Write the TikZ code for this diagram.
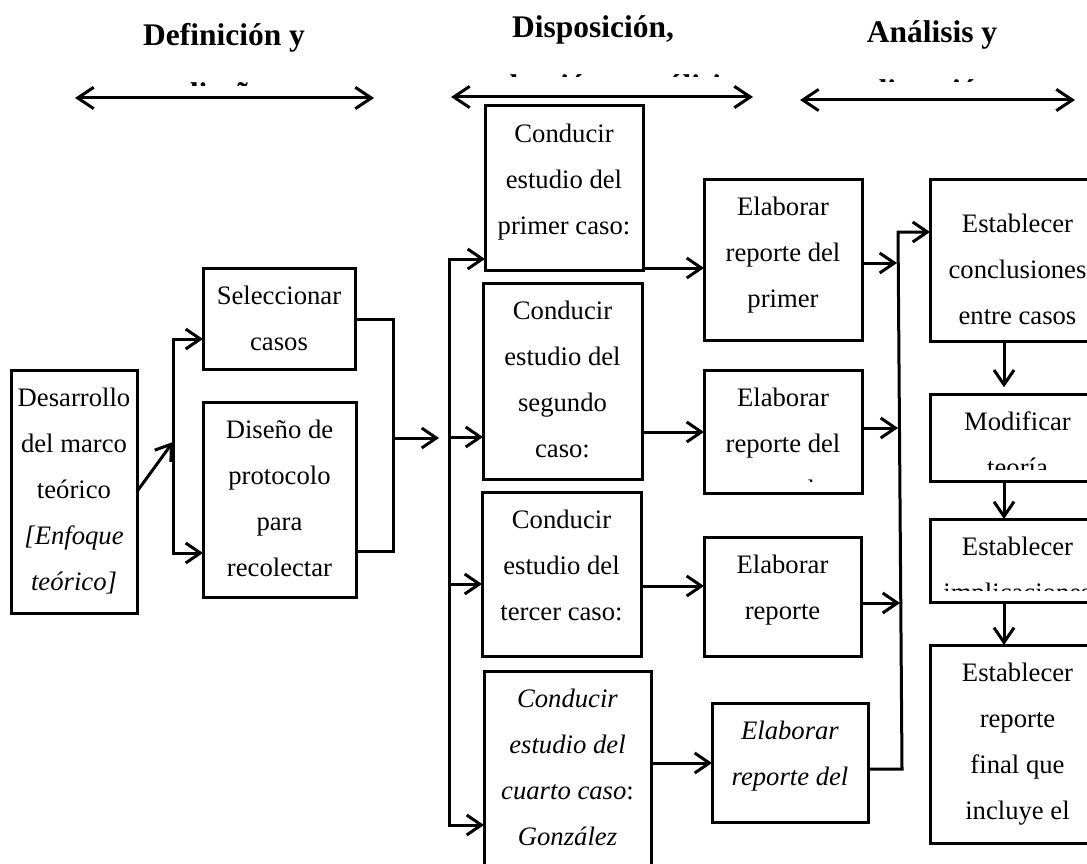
\documentclass[tikz,border=0pt]{standalone}
\usepackage{fontspec}
\setmainfont{Liberation Serif}
\usetikzlibrary{arrows.meta}

\tikzset{
  caja/.style={draw, line width=2.25pt, inner sep=0pt, outer sep=0pt},
  texto/.style={align=center, inner sep=0pt, font=\fontsize{20}{34.5}\selectfont},
  titulo/.style={align=center, inner sep=0pt, font=\bfseries\fontsize{23.6}{44}\selectfont},
  flecha/.style={-{Straight Barb[length=11pt,width=15pt]}},
  doble/.style={{Straight Barb[length=12pt,width=16pt]}-{Straight Barb[length=12pt,width=16pt]}}
}

% box with text cut at its lower edge: [text offset]{name}{left}{top}{right}{bottom}{text}
\newcommand{\caja}[7][0]{%
  \pgfmathsetmacro\cajaancho{(#5-#3)*0.75}%
  \pgfmathsetmacro\cajaalto{(#6-#4)*0.75}%
  \pgfmathsetmacro\cajax{(#3+#5)/2}%
  \pgfmathsetmacro\cajay{#4+3+#1}%
  \node[caja, anchor=north west, minimum width=\cajaancho pt, minimum height=\cajaalto pt] (#2) at (#3,#4) {};
  \begin{scope}
    \clip (#3,#4) rectangle (#5,#6-12);
    \node[texto, anchor=north] at (\cajax,\cajay) {\strut#7};
  \end{scope}}

\begin{document}
\begin{tikzpicture}[x=0.75pt, y=-0.75pt, line width=2.25pt]
\useasboundingbox (0,0) rectangle (1087,863);
% Titles
\begin{scope}
  \clip (40,-10) rectangle (410,86);
  \node[titulo, anchor=north] (tit1) at (224,3) {\strut Definición y\\diseño};
\end{scope}
\begin{scope}
  \clip (420,-10) rectangle (770,77);
  \node[titulo, anchor=north] (tit2) at (593,-5) {\strut Disposición,\\recolección y análisis};
\end{scope}
\begin{scope}
  \clip (780,-10) rectangle (1087,82);
  \node[titulo, anchor=north] (tit3) at (932,0) {\strut Análisis y\\discusión};
\end{scope}
% Double arrows under the titles
\coordinate (h1a) at (75,98);
\coordinate (h1b) at (374,98);
\coordinate (h2a) at (451,97);
\coordinate (h2b) at (753,97);
\coordinate (h3a) at (800,100);
\coordinate (h3b) at (1075,100);
\draw[doble] (h1a) -- (h1b);
\draw[doble] (h2a) -- (h2b);
\draw[doble] (h3a) -- (h3b);
% Boxes
\caja{desarrollo}{11}{370}{137}{613}{Desarrollo\\del marco\\teórico\\\textit{[Enfoque}\\\textit{teórico]}}
\caja{seleccionar}{203}{268}{355}{369}{Seleccionar\\casos}
\caja{disenio}{203}{402}{356}{597}{Diseño de\\protocolo\\para\\recolectar}
\caja{caso1}{485}{106}{643}{270}{Conducir\\estudio del\\primer caso:}
\caja{caso2}{483}{283}{642}{479}{Conducir\\estudio del\\segundo\\caso:}
\caja{caso3}{482}{492}{641}{656}{Conducir\\estudio del\\tercer caso:}
\caja{caso4}{484}{671}{651}{885}{\textit{Conducir}\\\textit{estudio del}\\\textit{cuarto caso}:\\\textit{González}}
\caja{reporte1}{704}{179}{862}{340}{Elaborar\\reporte del\\primer}
\caja{reporte2}{704}{370}{862}{493}{Elaborar\\reporte del\\segundo}
\caja{reporte3}{704}{537}{861}{656}{Elaborar\\reporte}
\caja{reporte4}{712}{703}{868}{822}{\textit{Elaborar}\\\textit{reporte del}}
\caja[17]{concl}{930}{179}{1105}{341}{Establecer\\conclusiones\\entre casos}
\caja{modif}{930}{394}{1105}{481}{Modificar\\teoría}
\caja{implic}{930}{519}{1105}{602}{Establecer\\implicaciones}
\caja{final}{930}{645}{1105}{843}{Establecer\\reporte\\final que\\incluye el}
% Left part
\coordinate (a1) at (173,339);
\coordinate (a2) at (173,442);
\coordinate (a3) at (173,553);
\draw[flecha] (desarrollo.east) -- (a2);
\draw[flecha] (a3) |- (seleccionar.west |- a1);
\draw[flecha] (a1) |- (disenio.west |- a3);
\coordinate (b1) at (393,319);
\coordinate (b2) at (393,551);
\coordinate (b3) at (393,438);
\coordinate (entrada) at (439,438);
\draw (seleccionar.east |- b1) -- (b1) -- (b2) -- (disenio.east |- b2);
\draw[flecha] (b3) -- (entrada);
% Cases
\coordinate (c1) at (449,259);
\coordinate (c2) at (449,437);
\coordinate (c3) at (449,584);
\coordinate (c4) at (449,825);
\draw[flecha] (c4) |- (caso1.west |- c1);
\draw[flecha] (c1) |- (caso4.west |- c4);
\draw[flecha] (c2) -- (caso2.west |- c2);
\draw[flecha] (c3) -- (caso3.west |- c3);
\coordinate (r1) at (0,268);
\coordinate (r2) at (0,432);
\coordinate (r3) at (0,586);
\coordinate (r4) at (0,763);
\foreach \i in {1,...,4}
  \draw[flecha] (caso\i.east |- r\i) -- (reporte\i.west |- r\i);
% Reports to the cross-case analysis
\coordinate (d1) at (897,263);
\coordinate (d2) at (898,428);
\coordinate (d3) at (900,603);
\coordinate (d4) at (902,769);
\coordinate (dtop) at (898,232);
\foreach \i in {1,2,3}
  \draw[flecha] (reporte\i.east |- d\i) -- (d\i);
\draw[flecha] (reporte4.east |- d4) -- (d4) -- (dtop) -- (concl.west |- dtop);
\coordinate (v) at (1004,0);
\draw[flecha, shorten >=5pt] (concl.south -| v) -- (modif.north -| v);
\draw[flecha] (modif.south -| v) -- (implic.north -| v);
\draw[flecha] (implic.south -| v) -- (final.north -| v);
\end{tikzpicture}
\end{document}
